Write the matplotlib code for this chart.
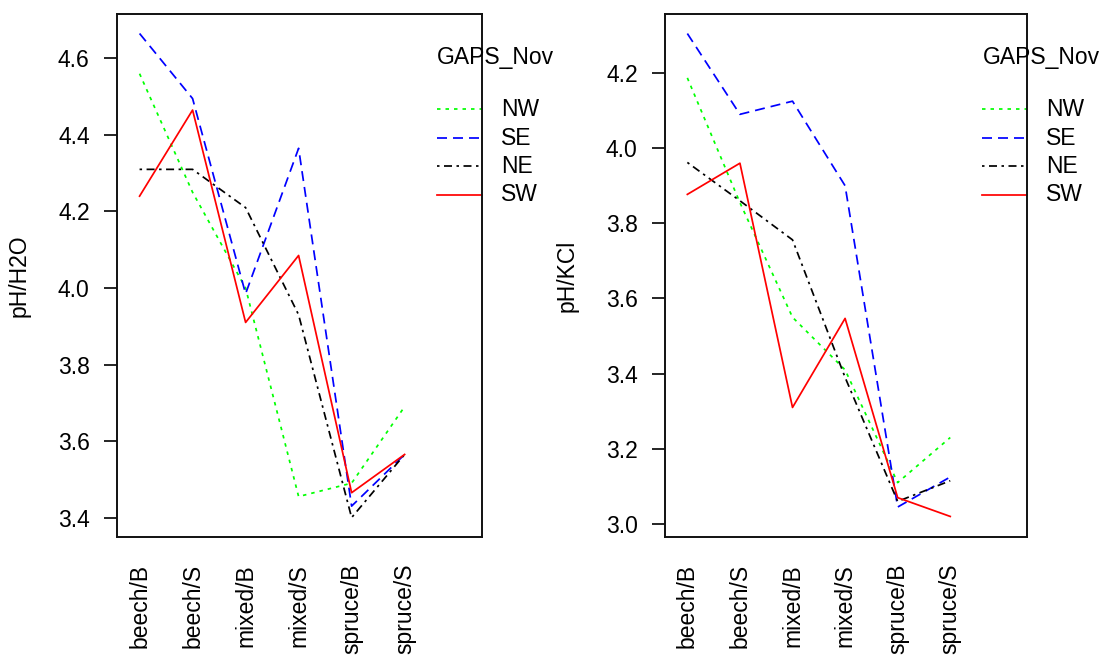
import matplotlib
matplotlib.use('Agg')
import matplotlib.pyplot as plt


levels = ['beech/B', 'beech/S', 'mixed/B', 'mixed/S', 'spruce/B', 'spruce/S']
gaps = ['NW', 'SE', 'NE', 'SW']

ph_h2o_nw = [4.56, 4.25, 4.00, 3.455, 3.49, 3.69]
ph_h2o_se = [4.665, 4.495, 3.985, 4.365, 3.43, 3.565]
ph_h2o_ne = [4.31, 4.31, 4.21, 3.93, 3.40, 3.565]
ph_h2o_sw = [4.24, 4.465, 3.91, 4.085, 3.465, 3.565]

ph_kcl_nw = [4.187, 3.855, 3.55, 3.41, 3.11, 3.23]
ph_kcl_se = [4.305, 4.09, 4.125, 3.90, 3.045, 3.125]
ph_kcl_ne = [3.962, 3.86, 3.756, 3.39, 3.06, 3.115]
ph_kcl_sw = [3.877, 3.96, 3.31, 3.547, 3.07, 3.02]

h2o_ticks = [3.4, 3.6, 3.8, 4.0, 4.2, 4.4, 4.6]
kcl_ticks = [3.0, 3.2, 3.4, 3.6, 3.8, 4.0, 4.2]

plt.rcParams['font.family'] = ['Liberation Sans', 'DejaVu Sans']
plt.rcParams['font.size'] = 16.5
plt.rcParams['lines.scale_dashes'] = False

# R-style line types, dash lengths in points
px = 0.72
colors = ['#00ff00', '#0000ff', 'black', '#ff0000']
styles = [(0, (3.5 * px, 5 * px)),
          (0, (10 * px, 6 * px)),
          (0, (2.5 * px, 4.5 * px, 8 * px, 4.5 * px)),
          '-']
legend_rows = [0.8185, 0.763, 0.709, 0.655]


def interaction_panel(ax, series, ticks, ylim, ylabel, label_x):
    x = list(range(1, len(levels) + 1))
    for values, color, ls in zip(series, colors, styles):
        ax.plot(x, values, color=color, linestyle=ls, linewidth=1.25)

    ax.set_xlim(0.575, 7.46)
    ax.set_ylim(*ylim)
    ax.set_xticks(x)
    ax.set_xticklabels(levels, rotation=90, va='top')
    ax.tick_params(axis='x', length=0, pad=19)
    ax.set_yticks(ticks)
    ax.set_yticklabels([f'{t:.1f}' for t in ticks])
    ax.tick_params(axis='y', length=9.7, width=1.2, pad=10)
    ax.set_ylabel(ylabel)
    ax.yaxis.set_label_coords(label_x, 0.5)
    for spine in ax.spines.values():
        spine.set_linewidth(1.4)
        spine.set_color('#111111')

    # legend drawn R-style, hanging off the right edge of the box
    tr = ax.get_xaxis_transform()
    ax.text(6.613, 0.916, 'GAPS_Nov', transform=tr, ha='left', va='center',
            clip_on=False)
    for name, color, ls, yrow in zip(gaps, colors, styles, legend_rows):
        ax.plot([6.613, 7.46], [yrow, yrow], transform=tr, color=color,
                linestyle=ls, linewidth=1.25, clip_on=False)
        ax.text(7.82, yrow, name, transform=tr, ha='left', va='center',
                clip_on=False)


fig = plt.figure(figsize=(10.99, 6.57), dpi=100)
ax1 = fig.add_axes([0.1065, 0.1819, 0.3321, 0.7968])
ax2 = fig.add_axes([0.6051, 0.1819, 0.3294, 0.7968])

interaction_panel(ax1, [ph_h2o_nw, ph_h2o_se, ph_h2o_ne, ph_h2o_sw],
                  h2o_ticks, (3.348, 4.716), 'pH/H2O', -0.238)
interaction_panel(ax2, [ph_kcl_nw, ph_kcl_se, ph_kcl_ne, ph_kcl_sw],
                  kcl_ticks, (2.964, 4.357), 'pH/KCl', -0.240)

fig.savefig('out.png', dpi=100)
